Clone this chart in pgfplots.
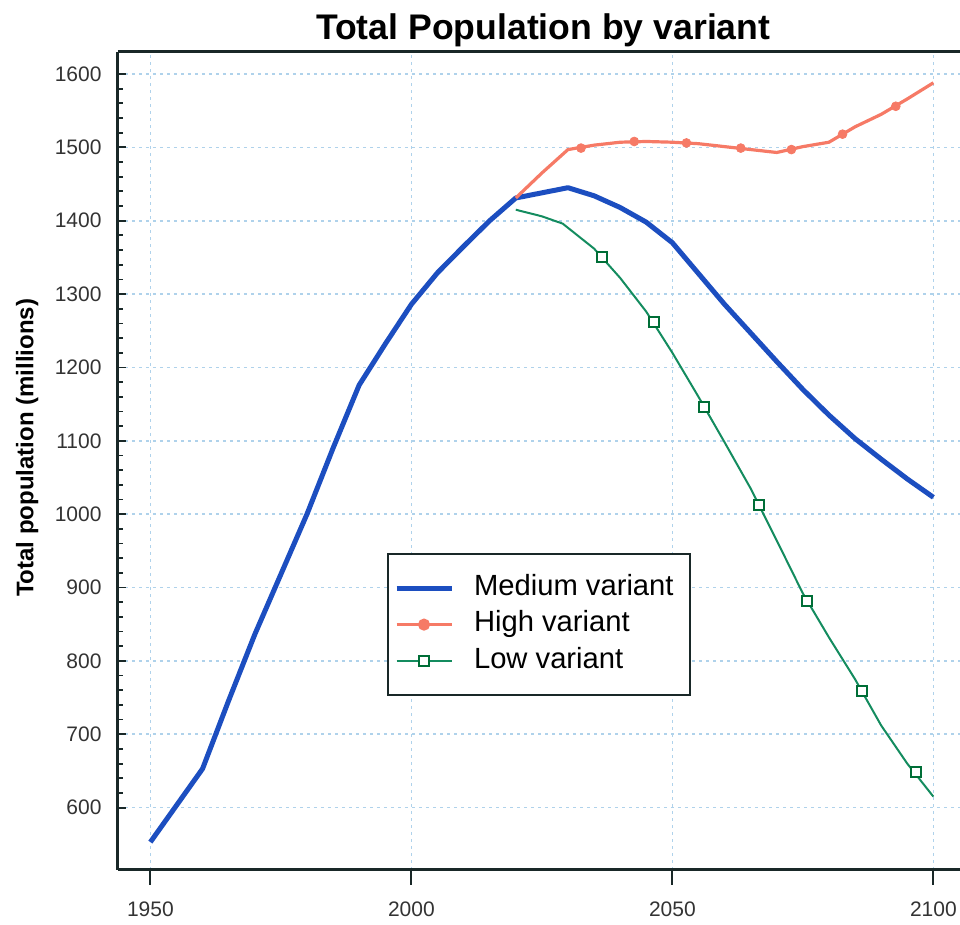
\documentclass[border=0pt]{standalone}
\usepackage{fontspec}
\setmainfont{Liberation Sans}
\usepackage{pgfplots}
\pgfplotsset{compat=1.18}

\definecolor{medblue}{RGB}{28,78,192}
\definecolor{highred}{RGB}{246,122,102}
\definecolor{lowgreen}{RGB}{20,140,95}
\definecolor{lowedge}{RGB}{0,110,55}
\definecolor{gridblue}{RGB}{175,210,235}
\definecolor{spine}{RGB}{25,40,40}

\begin{document}
\begin{tikzpicture}
\begin{axis}[
    scale only axis, width=421pt, height=409pt,
    xmin=1943.8, xmax=2105.1, ymin=515, ymax=1630,
    separate axis lines,
    axis x line*=box, axis y line*=left,
    axis line style={-, draw=spine, line width=1.5pt},
    xtick={1950,2000,2050,2100}, ytick={600,700,...,1600},
    minor y tick num=4,
    xtick pos=bottom, ytick pos=left,
    xtick align=outside, ytick align=inside,
    xtick style={/pgfplots/major tick length=7.5pt, line width=1pt, draw=spine},
    ytick style={/pgfplots/major tick length=4pt, /pgfplots/minor tick length=2.5pt, line width=0.9pt, draw=spine},
    grid=major,
    major grid style={gridblue, line width=0.8pt, dash pattern=on 1.5pt off 2pt},
    /pgf/number format/1000 sep={},
    /pgf/number format/assume math mode=true,
    ticklabel style={font=\fontsize{10.5}{12}\selectfont, text=black!80},
    xticklabel style={yshift=-8pt},
    yticklabel style={xshift=-4.7pt},
    title={\bfseries Total Population by variant},
    title style={font=\fontsize{17.8}{20}\selectfont, anchor=base, at={(axis description cs:0.505,1.0)}},
    ylabel={\bfseries Total population (millions)},
    ylabel style={font=\fontsize{12}{14}\selectfont, anchor=center, at={(axis description cs:-0.108,0.516)}},
    legend cell align=left,
    legend image code/.code={\draw[mark repeat=2, mark phase=2, #1] plot coordinates {(0pt,0pt) (13.75pt,0pt) (27.5pt,0pt)};},
    legend style={at={(axis description cs:0.3195,0.3875)}, anchor=north west,
        draw=spine, line width=1pt, fill=white,
        font=\fontsize{14.6}{16}\selectfont,
        inner xsep=3pt, inner ysep=10.5pt, row sep=5.3pt,
        nodes={inner sep=0pt, text height=10pt, text depth=3pt},
        /tikz/every odd column/.append style={column sep=10pt}},
]
% medium variant
\addplot[medblue, line width=2.5pt, line join=round] coordinates {
    (1950,553) (1955,603) (1960,653) (1965,746) (1970,836) (1975,918)
    (1980,1000) (1985,1090) (1990,1176) (1995,1232) (2000,1286)
    (2005,1329) (2010,1365) (2015,1400) (2020,1431) (2025,1438)
    (2030,1445) (2035,1434) (2040,1418) (2045,1398) (2050,1370)
    (2055,1328) (2060,1286) (2065,1247) (2070,1208) (2075,1170)
    (2080,1135) (2085,1103) (2090,1075) (2095,1048) (2100,1023)
};
\addlegendentry{Medium variant\rule{5pt}{0pt}}
% high variant
\addplot[highred, line width=1.6pt, line join=round, forget plot] coordinates {
    (2020,1431) (2025,1465) (2030,1497) (2035,1503) (2040,1507)
    (2045,1508) (2050,1507) (2055,1505) (2060,1501) (2065,1497)
    (2070,1493) (2075,1501) (2080,1507) (2085,1528) (2090,1545)
    (2095,1566) (2100,1588)
};
\addplot[only marks, mark=*, mark size=2.2pt, highred, forget plot] coordinates {
    (2032.5,1499) (2042.7,1508) (2052.7,1506) (2063.1,1499)
    (2072.8,1497) (2082.6,1518) (2092.8,1556)
};
% low variant
\addplot[lowgreen, line width=1pt, line join=round, forget plot] coordinates {
    (2020,1415) (2025,1406) (2029,1396) (2035,1362) (2040,1322)
    (2045,1276) (2050,1220) (2055,1160) (2060,1098) (2065,1035)
    (2070,964) (2075,892) (2080,832) (2085,775) (2090,712)
    (2095,660) (2100,615)
};
\addplot[only marks, mark=square*, mark size=2.5pt, draw=lowedge, fill=white, line width=1pt, forget plot] coordinates {
    (2036.6,1350) (2046.4,1262) (2056.1,1146) (2066.6,1013)
    (2075.8,882) (2086.4,759) (2096.6,648)
};
\addlegendimage{highred, line width=1.6pt, mark=*, mark size=2.2pt}
\addlegendentry{High variant}
\addlegendimage{lowgreen, line width=1pt, mark=square*, mark size=2.5pt, mark options={draw=lowedge, fill=white}}
\addlegendentry{Low variant}
\end{axis}
\pgfresetboundingbox
\path[use as bounding box] (-59pt,-27.5pt) rectangle (421pt,435pt);
\end{tikzpicture}
\end{document}
